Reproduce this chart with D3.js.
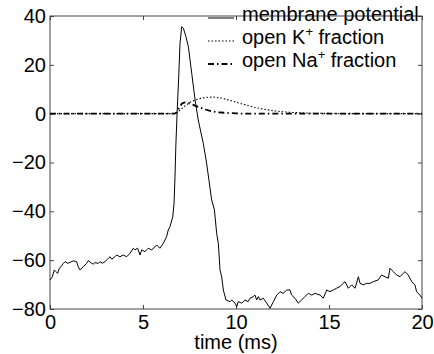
<!DOCTYPE html>
<html>
<head>
<meta charset="utf-8">
<script src="https://d3js.org/d3.v7.min.js"></script>
<style>
  body { margin: 0; background: #fff; }
  svg { display: block; font-family: "Liberation Sans", Arial, sans-serif; }
</style>
</head>
<body>
<div id="chart"></div>
<script>

// membrane potential trace (ms, mV)
var membTime = [0, 0.13, 0.23, 0.32, 0.41, 0.5, 0.59, 0.72, 0.81, 0.95, 1.08, 1.25, 1.43, 1.52, 1.61,
  1.79, 1.97, 2.06, 2.24, 2.33, 2.42, 2.6, 2.69, 2.81, 2.96, 3.14, 3.23, 3.32, 3.49, 3.58, 3.76,
  3.94, 4.12, 4.3, 4.48, 4.57, 4.71, 4.84, 4.93, 5.11, 5.28, 5.47, 5.65, 5.74, 5.91, 6.09, 6.27,
  6.36, 6.45, 6.6, 6.67, 6.72, 6.77, 6.84, 6.92, 6.99, 7.08, 7.17, 7.31, 7.44, 7.62, 7.8, 7.97,
  8.24, 8.42, 8.69, 8.84, 8.96, 9.05, 9.14, 9.23, 9.32, 9.46, 9.68, 9.77, 9.95, 10.04, 10.12,
  10.31, 10.48, 10.65, 10.75, 10.93, 11.02, 11.11, 11.2, 11.29, 11.47, 11.65, 11.83, 12.01, 12.19,
  12.37, 12.54, 12.73, 12.9, 12.99, 13.17, 13.35, 13.53, 13.71, 13.89, 14.07, 14.25, 14.52, 14.69,
  14.88, 15.05, 15.23, 15.41, 15.59, 15.86, 16.04, 16.22, 16.4, 16.58, 16.67, 16.84, 17.03, 17.2,
  17.38, 17.65, 17.83, 18.01, 18.19, 18.28, 18.46, 18.64, 18.82, 18.99, 19.09, 19.26, 19.45,
  19.62, 19.71, 19.89, 20];
var membPotential = [-68.1, -66.8, -64.0, -64.7, -65.4, -63.3, -62.7, -61.3, -60.6, -61.3, -60.9,
  -60.3, -60.6, -62.7, -64.0, -62.7, -61.3, -60.2, -61.3, -61.6, -61.0, -61.3, -60.6, -61.3, -60.6,
  -59.2, -58.6, -59.6, -58.6, -57.9, -58.6, -57.9, -58.6, -57.2, -55.1, -55.8, -55.1, -57.9, -55.8,
  -56.5, -55.1, -55.8, -54.5, -53.8, -55.1, -53.1, -50.4, -47.6, -46.3, -42.2, -36.7, -25.8, -12.1,
  1.5, 15.1, 28.8, 35.6, 35.0, 31.5, 27.4, 16.5, 5.6, -2.6, -12.1, -20.3, -35.3, -39.4, -49.0,
  -53.1, -64.0, -66.8, -72.2, -76.3, -77.0, -76.3, -77.6, -79.0, -77.0, -77.6, -76.3, -77.0, -75.6,
  -74.9, -74.3, -76.3, -74.9, -76.3, -75.6, -77.6, -79.7, -77.0, -74.3, -72.9, -73.6, -72.2, -72.2,
  -74.3, -75.6, -77.6, -76.3, -74.9, -73.6, -74.3, -73.6, -74.3, -75.6, -72.2, -72.9, -72.2, -71.5,
  -70.8, -68.8, -71.5, -70.1, -71.5, -66.8, -69.5, -70.1, -69.5, -69.5, -68.8, -68.1, -66.1, -66.8,
  -67.4, -63.3, -64.7, -66.1, -66.8, -65.4, -64.7, -66.1, -68.8, -70.1, -72.9, -74.3, -75.6];

// open K+ fraction (scaled onto the same axis)
var kTime = [0, 6.5, 6.8, 7.0, 7.3, 7.6, 8.0, 8.4, 8.8, 9.2, 9.6, 10, 10.5, 11, 11.5, 12, 12.5, 13, 14, 15, 16, 20];
var kOpen = [0, 0, 0.3, 1.5, 3.4, 5.0, 6.1, 6.7, 6.8, 6.4, 5.6, 4.7, 3.6, 2.6, 1.8, 1.2, 0.8, 0.5, 0.2, 0.1, 0, 0];

// open Na+ fraction
var naTime = [0, 6.7, 6.8, 6.95, 7.1, 7.25, 7.5, 7.8, 8.1, 8.4, 8.7, 9.0, 9.5, 10, 10.5, 20];
var naOpen = [0, 0, 0.5, 2.5, 4.2, 4.6, 4.2, 3.3, 2.4, 1.6, 1.0, 0.6, 0.3, 0.1, 0, 0];

// tick values
var xTicks = [0, 5, 10, 15, 20];
var yTicks = [-80, -60, -40, -20, 0, 20, 40];

// plot box inside the 434x354 window
var margin = {top: 16, bottom: 45, left: 50, right: 12},
  width = 434 - margin.left - margin.right,
  height = 354 - margin.top - margin.bottom;

var svg = d3.select("#chart")
  .append("svg")
    .attr("width", 434)
    .attr("height", 354);

var chart = svg.append("g")
  .attr("transform", "translate(" + margin.left + "," + margin.top + ")");

var x = d3.scaleLinear().domain([0, 20]).range([0, width]);
var y = d3.scaleLinear().domain([-80, 40]).range([height, 0]);

// axes with inward ticks on all four sides
var axisColor = "#444";
function styleAxis(g) {
  g.select(".domain").remove();
  g.selectAll(".tick line").attr("stroke", axisColor);
  g.selectAll(".tick text")
    .attr("fill", "#000")
    .style("font-size", "20px");
}

chart.append("g")
  .attr("transform", "translate(0," + height + ")")
  .call(d3.axisBottom(x).tickValues(xTicks).tickSizeInner(-4).tickSizeOuter(0).tickPadding(6))
  .call(styleAxis);

chart.append("g")
  .call(d3.axisLeft(y).tickValues(yTicks).tickSizeInner(-4).tickSizeOuter(0).tickPadding(4)
    .tickFormat(function(d) { return d < 0 ? "\u2212" + Math.abs(d) : d; }))
  .call(styleAxis);

chart.append("g")
  .call(d3.axisTop(x).tickValues(xTicks).tickSizeInner(-4).tickSizeOuter(0).tickFormat(""))
  .call(styleAxis);

chart.append("g")
  .attr("transform", "translate(" + width + ",0)")
  .call(d3.axisRight(y).tickValues(yTicks).tickSizeInner(-4).tickSizeOuter(0).tickFormat(""))
  .call(styleAxis);

// box around the plot
chart.append("rect")
  .attr("width", width)
  .attr("height", height)
  .attr("fill", "none")
  .attr("stroke", axisColor)
  .attr("stroke-width", 1);

// x label
svg.append("text")
  .attr("x", margin.left + width / 2)
  .attr("y", 349)
  .attr("text-anchor", "middle")
  .style("font-size", "20px")
  .text("time (ms)");

// line generator taking parallel arrays
function makeLine(ts, vs) {
  return d3.line()
    .x(function(d, i) { return x(ts[i]); })
    .y(function(d) { return y(d); })(vs);
}

var series = [
  {name: "membrane", path: makeLine(membTime, membPotential), width: 1, dash: null},
  {name: "k", path: makeLine(kTime, kOpen), width: 1.1, dash: "1.5,2"},
  {name: "na", path: makeLine(naTime, naOpen), width: 1.8, dash: "6,3,1.5,3"}
];

chart.selectAll(".series")
  .data(series)
  .enter().append("path")
    .attr("class", "series")
    .attr("d", function(d) { return d.path; })
    .attr("fill", "none")
    .attr("stroke", "#000")
    .attr("stroke-width", function(d) { return d.width; })
    .attr("stroke-dasharray", function(d) { return d.dash; });

// legend, no frame
var legendRows = [
  {label: ["membrane potential"], width: 1, dash: null},
  {label: ["open K", "+", " fraction"], width: 1.1, dash: "1.5,2"},
  {label: ["open Na", "+", " fraction"], width: 1.8, dash: "6,3,1.5,3"}
];

var legend = svg.append("g")
  .attr("transform", "translate(208,18)");

var row = legend.selectAll(".row")
  .data(legendRows)
  .enter().append("g")
    .attr("class", "row")
    .attr("transform", function(d, i) { return "translate(0," + (i * 23) + ")"; });

row.append("line")
  .attr("x1", 0)
  .attr("x2", 26)
  .attr("y1", 0)
  .attr("y2", 0)
  .attr("stroke", "#000")
  .attr("stroke-width", function(d) { return d.width; })
  .attr("stroke-dasharray", function(d) { return d.dash; });

var label = row.append("text")
  .attr("x", 34)
  .attr("y", 3)
  .style("font-size", "20px");

label.each(function(d) {
  var t = d3.select(this);
  t.append("tspan").text(d.label[0]);
  if (d.label.length > 1) {
    t.append("tspan").attr("dy", -8).style("font-size", "13px").text(d.label[1]);
    t.append("tspan").attr("dy", 8).text(d.label[2]);
  }
});

</script>
</body>
</html>
